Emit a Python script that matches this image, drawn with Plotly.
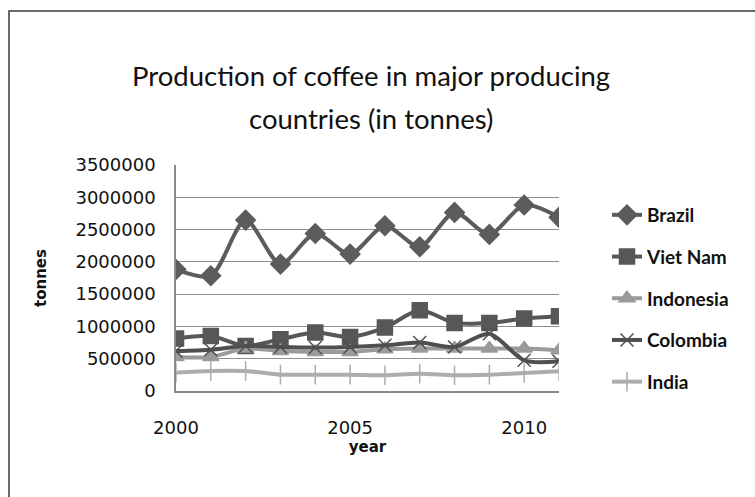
import plotly.graph_objects as go

years = list(range(2000, 2012))
brazil = [1882000, 1784000, 2647000, 1965000, 2440000, 2120000, 2559000, 2234000, 2766000, 2425000, 2880000, 2689000]
viet_nam = [812000, 853000, 698000, 801000, 905000, 838000, 982000, 1251000, 1055000, 1055000, 1122000, 1158000]
indonesia = [527000, 527000, 657000, 620000, 605000, 605000, 646000, 657000, 657000, 657000, 657000, 630000]
colombia = [620000, 640000, 698000, 682000, 674000, 682000, 708000, 750000, 682000, 887000, 475000, 460000]
india = [284000, 310000, 310000, 253000, 253000, 253000, 243000, 269000, 243000, 253000, 279000, 305000]
title_lines = ["Production of coffee in major producing", "countries (in tonnes)"]

series = [
    ("Brazil", brazil, "#5c5c5c", "diamond", 15),
    ("Viet Nam", viet_nam, "#575757", "square", 15),
    ("Indonesia", indonesia, "#9a9a9a", "triangle-up", 14),
    ("Colombia", colombia, "#4f4f4f", "x-thin-open", 13),
    ("India", india, "#adadad", "cross-thin-open", 14),
]

fig = go.Figure()
for name, vals, col, sym, sz in series:
    fig.add_trace(go.Scatter(
        x=years, y=vals, name=name, mode="lines+markers", legendgroup=name,
        line=dict(color=col, width=4, shape="spline", smoothing=0.8),
        marker=dict(symbol=sym, size=sz, color=col, line=dict(color=col, width=1.5)),
    ))

L, R, T, B = 176, 196, 165, 106
W, H = 755, 497
pw, ph = W - L - R, H - T - B

def px(x):
    return (x - L) / pw

def py(y):
    return (H - B - y) / ph

fig.add_shape(type="rect", xref="paper", yref="paper",
              x0=px(9), x1=px(770), y0=py(11), y1=py(510),
              line=dict(color="#3a3a3a", width=1.5), fillcolor="rgba(0,0,0,0)", layer="below")

for txt, yy in zip(title_lines, [76, 118]):
    fig.add_annotation(text=txt, xref="paper", yref="paper", x=px(371), y=py(yy),
                       xanchor="center", yanchor="middle", showarrow=False,
                       font=dict(size=27.5, family="Lato", color="#111111"))

fig.update_layout(
    width=W, height=H,
    margin=dict(l=L, r=R, t=T, b=B),
    paper_bgcolor="white", plot_bgcolor="white",
    font=dict(family="DejaVu Sans", color="#111111"),
    showlegend=True,
    legend=dict(x=px(607), y=py(196), xanchor="left", yanchor="top",
                font=dict(size=19, family="Lato", color="#111111", weight="bold"),
                tracegroupgap=14, bgcolor="rgba(0,0,0,0)"),
    xaxis=dict(range=[2000, 2011], tickvals=[2000, 2005, 2010], showgrid=False,
               showline=True, linecolor="#8a8a8a", linewidth=1.5, zeroline=False,
               ticks="", ticklabelstandoff=20,
               tickfont=dict(size=18, family="DejaVu Sans", color="#111111"),
               title=dict(text="<b>year</b>", standoff=1, font=dict(size=15, family="DejaVu Sans"))),
    yaxis=dict(range=[0, 3500000], dtick=500000, tickformat="d", showgrid=True,
               gridcolor="#8f8f8f", gridwidth=1.2, showline=True, linecolor="#8a8a8a",
               linewidth=1.5, zeroline=False, ticks="", ticklabelstandoff=15,
               tickfont=dict(size=18, family="DejaVu Sans", color="#111111"),
               title=dict(text="<b>tonnes</b>", standoff=25, font=dict(size=15, family="DejaVu Sans"))),
)

fig.write_html("out.html")
